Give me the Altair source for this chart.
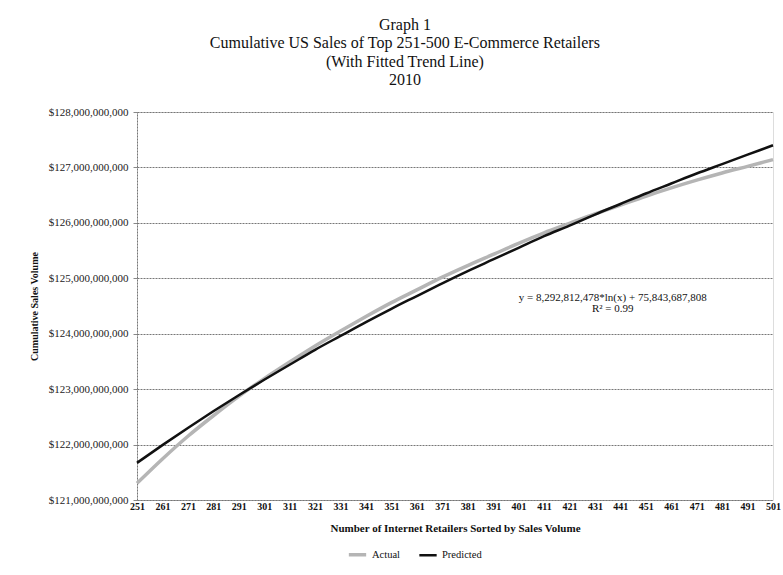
import altair as alt
import pandas as pd

# Rank of retailer (x axis positions read every 10 ranks)
ranks = [251, 261, 271, 281, 291, 301, 311, 321, 331, 341, 351, 361, 371,
         381, 391, 401, 411, 421, 431, 441, 451, 461, 471, 481, 491, 501]

# Cumulative sales, billions of US$
actual_bn = [121.30, 121.74, 122.15, 122.52, 122.87, 123.19, 123.49, 123.78,
             124.05, 124.31, 124.56, 124.79, 125.02, 125.23, 125.43, 125.63,
             125.82, 125.99, 126.16, 126.32, 126.48, 126.63, 126.77, 126.90,
             127.02, 127.14]
predicted_bn = [121.67, 121.99, 122.30, 122.60, 122.89, 123.17, 123.44, 123.71,
                123.96, 124.21, 124.45, 124.68, 124.91, 125.13, 125.34, 125.55,
                125.76, 125.95, 126.15, 126.34, 126.53, 126.71, 126.89, 127.06,
                127.23, 127.40]

series_names = ["Actual", "Predicted"]
y_ticks = [121e9, 122e9, 123e9, 124e9, 125e9, 126e9, 127e9, 128e9]
x_ticks = ranks

equation_lines = ["y = 8,292,812,478*ln(x) + 75,843,687,808", "R\u00b2 = 0.99"]

rows = []
for r, a, p in zip(ranks, actual_bn, predicted_bn):
    rows.append({"rank": r, "series": "Actual", "sales": a * 1e9})
    rows.append({"rank": r, "series": "Predicted", "sales": p * 1e9})
df = pd.DataFrame(rows)

ann = pd.DataFrame({
    "rank": [438, 438],
    "sales": [124.64e9, 124.45e9],
    "label": equation_lines,
})

FONT = "Liberation Serif"

x_axis = alt.Axis(
    values=x_ticks,
    title="Number of Internet Retailers Sorted by Sales Volume",
    titleFont=FONT, titleFontSize=11, titleFontWeight="bold", titleColor="#111",
    titlePadding=11,
    labelFont=FONT, labelFontSize=10, labelFontWeight="bold", labelColor="#111",
    labelPadding=1, labelOverlap=False, labelFlush=False, labelBound=False,
    labelSeparation=0,
    tickSize=0, grid=False,
    domainColor="#777", domainDash=[2, 1], domainWidth=1,
)
y_axis = alt.Axis(
    values=y_ticks,
    format="$,.0f",
    title="Cumulative Sales Volume",
    titleFont=FONT, titleFontSize=10, titleFontWeight="bold", titleColor="#111",
    titlePadding=9,
    labelFont=FONT, labelFontSize=11, labelColor="#222", labelPadding=5,
    labelOverlap=False,
    tickSize=4, tickColor="#888",
    grid=True, gridColor="#777", gridDash=[2, 1], gridWidth=1,
    domainColor="#777", domainDash=[2, 1], domainWidth=1,
)
x_scale = alt.Scale(domain=[251, 501], nice=False, zero=False)
y_scale = alt.Scale(domain=[121e9, 128e9], nice=False, zero=False)

lines = alt.Chart(df).mark_line(interpolate="monotone").encode(
    x=alt.X("rank:Q", scale=x_scale, axis=x_axis),
    y=alt.Y("sales:Q", scale=y_scale, axis=y_axis),
    color=alt.Color(
        "series:N",
        scale=alt.Scale(domain=series_names, range=["#b5b5b5", "#111111"]),
        legend=alt.Legend(
            title=None, orient="none", direction="horizontal",
            legendX=210, legendY=432,
            labelFont=FONT, labelFontSize=10.5, labelColor="#111",
            symbolType="stroke", symbolStrokeWidth=2.5, symbolSize=300,
            columnPadding=14,
        ),
    ),
    strokeWidth=alt.StrokeWidth(
        "series:N",
        scale=alt.Scale(domain=series_names, range=[3.5, 2.5]),
        legend=None,
    ),
    order=alt.Order("rank:Q"),
)

text = alt.Chart(ann).mark_text(font=FONT, fontSize=11, color="#111", align="center").encode(
    x=alt.X("rank:Q", scale=x_scale, axis=x_axis),
    y=alt.Y("sales:Q", scale=y_scale, axis=y_axis),
    text="label:N",
)

chart = alt.layer(lines, text).properties(
    width=636,
    height=388,
    title=alt.Title(
        text=["Graph 1", "Cumulative US Sales of Top 251-500 E-Commerce Retailers",
              "(With Fitted Trend Line)", "2010"],
        font=FONT, fontSize=16, fontWeight="normal", color="#111",
        lineHeight=18.5, anchor="middle", frame="bounds", offset=18,
    ),
    autosize=alt.AutoSizeParams(type="none"),
    padding={"left": 137, "top": 112, "right": 10, "bottom": 75},
).configure_view(stroke=None).configure(background="white")

chart.save("out.html", embed_options={"renderer": "svg", "actions": False})
